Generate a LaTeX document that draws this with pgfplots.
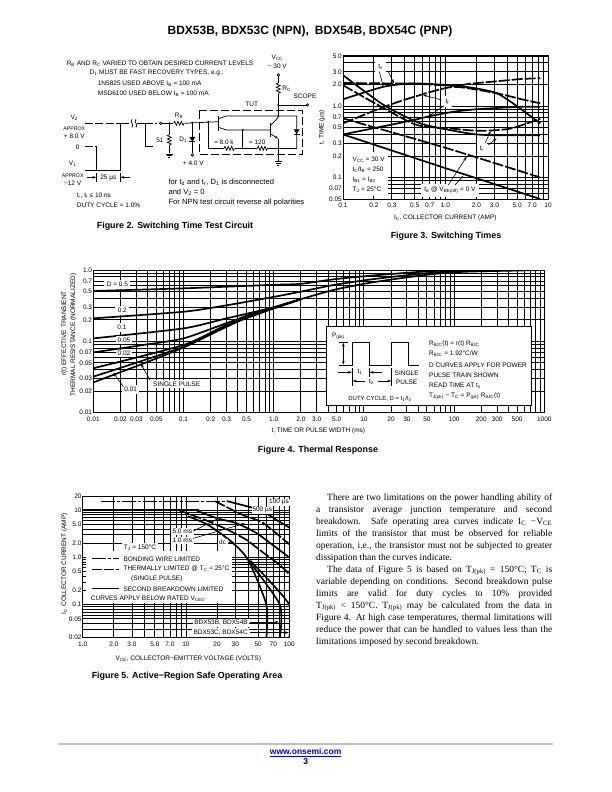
\documentclass[border=0pt]{standalone}
\usepackage{pgfplots}
\pgfplotsset{compat=1.18}
\usepackage{fontspec}
\setmainfont{Liberation Sans}
\newfontfamily\serif{Liberation Serif}
\usetikzlibrary{arrows.meta}
\newcommand\tfnt{\fontsize{6.5bp}{7bp}\selectfont}
\newcommand\capf{\fontsize{8.9bp}{10bp}\selectfont\bfseries}
\newcommand\sbs[1]{\textsubscript{#1}}
\newcommand\bline[1]{\makebox[236bp][s]{#1}}
\pgfplotsset{
  dsheet/.style={
    scale only axis,
    grid=both, major tick length=0pt, minor tick length=0pt,
    grid style={black,line width=.9bp},
    minor grid style={black,line width=.9bp},
    major grid style={black,line width=.9bp},
    axis line style={black,line width=1bp},
    tick label style={font=\tfnt,inner sep=1bp},
    xticklabel style={yshift=-3bp},
    clip=true},
}
\tikzset{
  scurve/.style={black,line width=1.7bp,mark=none,smooth,tension=.4},
  dcurve/.style={scurve,dash pattern=on 11bp off 2bp},
  zscale/.style={x=0.33333bp,y=-0.33333bp},
  lab/.style={font=\tfnt,inner sep=.6bp,fill=white},
  txt/.style={font=\tfnt,inner sep=0pt},
  tl/.style={txt,anchor=west},
  ar/.style={line width=.6bp,-{Stealth[length=4bp,width=2.6bp]}},
  wr/.style={line width=.7bp},
}
\newcommand\hres[2]{\draw[wr] (#1-16,#2) -- ++(3,-6) -- ++(5,12) -- ++(5,-12) -- ++(5,12) -- ++(5,-12) -- ++(5,12) -- ++(3,-6);}
\newcommand\vres[2]{\draw[wr] (#1,#2-16) -- ++(-6,3) -- ++(12,5) -- ++(-12,5) -- ++(12,5) -- ++(-12,5) -- ++(12,5) -- ++(-6,3);}
\newcommand\gnd[2]{\draw[wr] (#1-10,#2) -- (#1+10,#2) (#1-7,#2+5) -- (#1+7,#2+5) (#1-3,#2+10) -- (#1+3,#2+10);}
\newcommand\dio[2]{\fill (#1-9,#2-7) -- (#1+9,#2-7) -- (#1,#2+7) -- cycle; \draw[line width=1bp] (#1-9,#2+8) -- (#1+9,#2+8);}
\begin{document}
\begin{tikzpicture}
\path[use as bounding box] (0,0) rectangle (612bp,-792bp);
\fill[white] (0,0) rectangle (612bp,-792bp);

% Fig 3
\begin{loglogaxis}[dsheet,at={(343bp,-199bp)},anchor=south west,width=205bp,height=143bp,
 xmin=0.1,xmax=10,ymin=0.05,ymax=5,
 xtick={0.1,0.2,0.3,0.5,0.7,1,2,3,5,7,10},xticklabels={0.1,0.2,0.3,0.5,0.7,1.0,2.0,3.0,5.0,7.0,10},
 minor xtick={0.4,0.6,0.8,0.9,4,6,8,9},
 ytick={0.05,0.07,0.1,0.2,0.3,0.5,0.7,1,2,3,5},yticklabels={0.05,0.07,0.1,0.2,0.3,0.5,0.7,1.0,2.0,3.0,5.0},
 minor ytick={0.06,0.08,0.09,0.4,0.6,0.8,0.9,4}]
\addplot[dcurve] coordinates {(0.1,2.1)(0.25,2.07)(0.5,2.05)(1.2,1.92)(1.75,2.05)(3,2.2)(5.4,2.38)(8.4,2.45)};
\addplot[scurve] coordinates {(0.1,1.24)(0.25,1.86)(0.5,2.07)(1.2,1.93)(2,1.76)(3.2,1.5)(4.95,1.0)(8.4,0.57)};
\addplot[dcurve] coordinates {(0.1,0.57)(0.25,0.97)(0.5,1.35)(1.2,1.85)(3.2,1.5)(5.4,1.25)(8.4,1.09)};
\addplot[scurve] coordinates {(0.1,0.4)(0.3,0.55)(0.5,0.64)(0.7,0.72)(1.2,0.83)(2,0.9)(5,0.97)(8.4,0.97)};
\addplot[scurve] coordinates {(0.1,2.7)(0.25,1.03)(0.57,0.57)(1.2,0.45)(2,0.4)(3.2,0.39)(8.4,0.39)};
\addplot[dcurve] coordinates {(0.1,1.95)(0.25,0.93)(0.53,0.54)(1.2,0.48)(2,0.45)(3.2,0.46)(4.5,0.49)(8.4,0.66)};
\addplot[dcurve] coordinates {(0.1,0.67)(1,0.26)(8.4,0.1)};
\addplot[scurve] coordinates {(0.1,0.4)(1,0.135)(8.4,0.05)};
\end{loglogaxis}

% Fig 4
\begin{loglogaxis}[dsheet,at={(93.3bp,-412.7bp)},anchor=south west,width=451bp,height=142.7bp,
 xmin=0.01,xmax=1000,ymin=0.01,ymax=1,
 xtick={0.01,0.02,0.03,0.05,0.1,0.2,0.3,0.5,1,2,3,5,10,20,30,50,100,200,300,500,1000},
 xticklabels={0.01,0.02,0.03,0.05,0.1,0.2,0.3,0.5,1.0,2.0,3.0,5.0,10,20,30,50,100,200,300,500,1000},
 minor xtick={0.04,0.06,0.07,0.08,0.09,0.4,0.6,0.7,0.8,0.9,4,6,7,8,9,40,60,70,80,90,400,600,700,800,900},
 ytick={0.01,0.02,0.03,0.05,0.07,0.1,0.2,0.3,0.5,0.7,1},
 yticklabels={0.01,0.02,0.03,0.05,0.07,0.1,0.2,0.3,0.5,0.7,1.0},
 minor ytick={0.04,0.06,0.08,0.09,0.4,0.6,0.8,0.9}]
\addplot[scurve] coordinates {(0.01,0.508)(0.1,0.553)(1,0.62)(2,0.64)(4.6,0.74)(10.7,0.824)(25,0.898)(59,0.968)(138,0.99)(1000,1.0)};
\addplot[scurve] coordinates {(0.01,0.21)(0.1,0.26)(0.3,0.32)(1,0.42)(2,0.497)(4.6,0.616)(10.7,0.724)(25,0.824)(59,0.918)(138,0.98)(1000,1.0)};
\addplot[scurve] coordinates {(0.01,0.11)(0.1,0.152)(0.3,0.21)(1,0.3)(2,0.39)(4.6,0.525)(10.7,0.65)(25,0.764)(59,0.879)(138,0.947)(1000,1.0)};
\addplot[scurve] coordinates {(0.01,0.07)(0.036,0.089)(0.1,0.11)(0.3,0.18)(0.59,0.247)(1,0.3)(2,0.39)};
\addplot[scurve] coordinates {(0.01,0.042)(0.1,0.089)(0.3,0.17)(1,0.295)(2,0.39)};
\addplot[scurve] coordinates {(0.01,0.032)(0.1,0.084)(0.3,0.165)(1,0.29)(2,0.39)};
\addplot[scurve] coordinates {(0.01,0.0266)(0.036,0.049)(0.1,0.082)(0.3,0.16)(0.59,0.234)(1,0.29)(2,0.388)};
\end{loglogaxis}

% Fig 5
\begin{loglogaxis}[dsheet,at={(82.7bp,-637.7bp)},anchor=south west,width=206.6bp,height=141.7bp,
 xmin=1,xmax=100,ymin=0.02,ymax=20,
 xtick={1,2,3,5,7,10,20,30,50,70,100},xticklabels={1.0,2.0,3.0,5.0,7.0,10,20,30,50,70,100},
 minor xtick={4,6,8,9,40,60,80,90},
 ytick={0.02,0.05,0.1,0.2,0.5,1,2,5,10,20},yticklabels={0.02,0.05,0.1,0.2,0.5,1.0,2.0,5.0,10,20},
 minor ytick={0.03,0.04,0.06,0.07,0.08,0.09,0.3,0.4,0.6,0.7,0.8,0.9,3,4,6,7,8,9}]
\addplot[black,mark=none,line width=1.1bp,dash pattern=on 14bp off 2bp on 3bp off 2bp] coordinates {(1.5,15)(24,15)};
\addplot[black,mark=none,line width=2bp] coordinates {(1,10)(13.5,10)};
\addplot[black,mark=none,dash pattern=on 10bp off 2bp,line width=1.1bp] coordinates {(1,8)(8,8)};
\addplot[scurve] coordinates {(24.8,15.6)(52,10.1)(75.5,6.2)(100,4.3)};
\addplot[dcurve] coordinates {(19,15.6)(35.6,7.9)(55.6,5.4)(100,1.9)};
\addplot[scurve] coordinates {(12.7,9.8)(19.8,6.8)(30.8,5.3)(48,3.3)(70,1.8)(100,1.0)};
\addplot[dcurve] coordinates {(8.5,10)(16,6)(25,3.9)(38,2.4)(55,1.3)(81,0.69)(100,0.44)};
\addplot[scurve] coordinates {(10.4,7.5)(16.3,4.9)(27.6,2.15)(40,0.88)(60,0.1)(60,0.02)};
\addplot[scurve] coordinates {(40,0.88)(81,0.1)(81,0.02)};
\addplot[scurve] coordinates {(42,0.85)(100,0.1)(100,0.02)};
\end{loglogaxis}

% ---- page text
\node[font=\fontsize{12bp}{14bp}\selectfont\bfseries] at (310bp,-31bp) {BDX53B, BDX53C (NPN),\enspace BDX54B, BDX54C (PNP)};
\node[font=\capf] at (175bp,-226bp) {Figure 2. Switching Time Test Circuit};
\node[font=\capf] at (446bp,-236bp) {Figure 3. Switching Times};
\node[font=\capf] at (318bp,-450bp) {Figure 4. Thermal Response};
\node[font=\capf] at (187bp,-676bp) {Figure 5. Active−Region Safe Operating Area};

\fill[black!25] (58bp,-743.3bp) rectangle (553bp,-744.7bp);
\node[font=\fontsize{8.5bp}{9bp}\selectfont\bfseries,text=blue!85!black] at (305.7bp,-752.5bp) {\underline{www.onsemi.com}};
\node[font=\fontsize{8.5bp}{9bp}\selectfont\bfseries] at (305.7bp,-762bp) {3};

% body text
\begin{scope}[x=1bp,y=-1bp,every node/.style={anchor=base west,inner sep=0pt,font=\serif\fontsize{9.5bp}{11bp}\selectfont}]
\node at (327,500) {\makebox[225bp][s]{There are two limitations on the power handling ability of}};
\node at (316,512) {\bline{a transistor average junction temperature and second}};
\node at (316,524) {\bline{breakdown. Safe operating area curves indicate I\sbs{C} −V\sbs{CE}}};
\node at (316,536) {\bline{limits of the transistor that must be observed for reliable}};
\node at (316,548) {\bline{operation, i.e., the transistor must not be subjected to greater}};
\node at (316,560) {dissipation than the curves indicate.};
\node at (327,572) {\makebox[225bp][s]{The data of Figure 5 is based on T\sbs{J(pk)} = 150°C; T\sbs{C} is}};
\node at (316,584) {\bline{variable depending on conditions. Second breakdown pulse}};
\node at (316,596) {\bline{limits are valid for duty cycles to 10\% provided}};
\node at (316,608) {\bline{T\sbs{J(pk)} < 150°C. T\sbs{J(pk)} may be calculated from the data in}};
\node at (316,620) {\bline{Figure 4. At high case temperatures, thermal limitations will}};
\node at (316,632) {\bline{reduce the power that can be handled to values less than the}};
\node at (316,644) {limitations imposed by second breakdown.};
\end{scope}

% Fig 3 overlay
\begin{scope}[shift={(320bp,-45bp)},zscale]
\fill[white] (72,322) rectangle (205,452);
\node[tl] at (97,345) {V\sbs{CC} = 30 V};
\node[tl] at (97,375) {I\sbs{C}/I\sbs{B} = 250};
\node[tl] at (97,405) {I\sbs{B1} = I\sbs{B2}};
\node[tl] at (97,435) {T\sbs{J} = 25°C};
\node[lab,inner sep=3bp] at (390,436) {t\sbs{d} @ V\sbs{BE(off)} = 0 V};
\node[lab,inner sep=3bp] at (182,66) {t\sbs{s}};
\node[lab,inner sep=3bp] at (382,170) {t\sbs{f}};
\node[lab,inner sep=3bp] at (485,312) {t\sbs{r}};
\draw[ar] (178,80)--(190,125); \draw[ar] (205,80)--(222,115);
\draw[ar] (365,165)--(310,150); \draw[ar] (372,182)--(325,215);
\draw[ar] (495,295)--(512,258); \draw[ar] (505,300)--(530,280);
\draw[ar] (385,420)--(440,335); \draw[ar] (405,420)--(430,392);
\node[txt,rotate=90] at (6,246) {t, TIME (µs)};
\node[txt] at (376,517) {I\sbs{C}, COLLECTOR CURRENT (AMP)};
\end{scope}

% Fig 4 overlay
\begin{scope}[shift={(60bp,-260bp)},zscale]
\node[lab,inner sep=2.5bp] at (172,73) {D = 0.5};
\node[lab,inner sep=2.5bp] at (187,151) {0.2};
\node[lab,inner sep=2bp] at (186,202) {0.1};
\node[lab,inner sep=1.5bp] at (192,240) {0.05};
\node[lab,inner sep=1.5bp] at (192,280) {0.02};
\node[lab,inner sep=2bp] at (212,388) {0.01};
\node[lab,inner sep=2bp] at (350,372) {SINGLE PULSE};
\draw[ar] (190,380)--(160,338); \draw[ar] (270,360)--(243,312);
\node[txt,rotate=90] at (13,220) {r(t) EFFECTIVE TRANSIENT};
\node[txt,rotate=90] at (40,225) {THERMAL RESISTANCE (NORMALIZED)};
\node[txt] at (775,513) {t, TIME OR PULSE WIDTH (ms)};
\end{scope}
\begin{scope}[shift={(300bp,-260bp)},zscale]
\draw[fill=white,line width=.8bp] (80,200) rectangle (695,435);
\node[txt] at (115,228) {P\sbs{(pk)}};
\draw[line width=.8bp] (118,315)--(157,315)--(157,247)--(208,247)--(208,315)--(275,315)--(275,247)--(325,247)--(325,315)--(358,315);
\draw[wr] (118,247)--(145,247);
\draw[line width=.6bp,{Stealth[length=4bp,width=2.6bp]}-{Stealth[length=4bp,width=2.6bp]}] (130,248)--(130,314);
\draw[wr] (157,325)--(157,377) (208,325)--(208,350) (275,325)--(275,377);
\draw[ar] (115,337)--(156,337); \draw[ar] (247,337)--(209,337);
\draw[ar] (195,363)--(158,363); \draw[ar] (235,363)--(274,363);
\node[txt] at (180,335) {t\sbs{1}}; \node[txt] at (214,366) {t\sbs{2}};
\node[txt] at (320,340) {SINGLE}; \node[txt] at (320,368) {PULSE};
\node[txt,font=\fontsize{6bp}{7bp}\selectfont] at (240,415) {DUTY CYCLE, D = t\sbs{1}/t\sbs{2}};
\node[tl] at (387,250) {R\sbs{θJC}(t) = r(t) R\sbs{θJC}};
\node[tl] at (387,280) {R\sbs{θJC} = 1.92°C/W};
\node[tl] at (387,315) {D CURVES APPLY FOR POWER};
\node[tl] at (387,345) {PULSE TRAIN SHOWN};
\node[tl] at (387,378) {READ TIME AT t\sbs{1}};
\node[tl] at (387,408) {T\sbs{J(pk)} − T\sbs{C} = P\sbs{(pk)} R\sbs{θJC}(t)};
\end{scope}

% Fig 5 overlay
\begin{scope}[shift={(55bp,-485bp)},zscale]
\fill[white] (92,198) rectangle (530,355);
\node[lab,inner sep=2bp] at (255,188) {T\sbs{J} = 150°C};
\draw[line width=.9bp,dash pattern=on 14bp off 2bp on 3bp off 2bp] (112,220)--(192,220);
\node[tl] at (205,222) {BONDING WIRE LIMITED};
\draw[line width=.9bp,dash pattern=on 10bp off 2bp] (112,253)--(192,253);
\node[tl] at (205,252) {THERMALLY LIMITED @ T\sbs{C} = 25°C};
\node[tl] at (228,282) {(SINGLE PULSE)};
\draw[line width=.9bp] (112,310)--(192,310);
\node[tl] at (205,312) {SECOND BREAKDOWN LIMITED};
\node[tl] at (107,342) {CURVES APPLY BELOW RATED V\sbs{CEO}};
\node[lab,inner sep=1.5bp] at (382,140) {5.0 ms};
\node[lab,inner sep=1.5bp] at (382,166) {1.0 ms};
\node[lab,inner sep=1.5bp] at (503,173) {dc};
\node[lab,inner sep=.8bp] at (672,52) {100 µs};
\node[lab,inner sep=.8bp] at (622,76) {500 µs};
\draw[ar] (415,138)--(492,100); \draw[ar] (415,160)--(570,115); \draw[ar] (520,172)--(542,176);
\node[lab,inner sep=1.5bp] at (498,414) {BDX53B, BDX54B};
\node[lab,inner sep=1.5bp] at (497,443) {BDX53C, BDX54C};
\draw[ar,line width=.9bp] (585,411)--(672,411); \draw[ar,line width=.9bp] (585,443)--(702,443);
\node[txt,rotate=90] at (28,236) {I\sbs{C} COLLECTOR CURRENT (AMP)};
\node[txt] at (400,520) {V\sbs{CE}, COLLECTOR−EMITTER VOLTAGE (VOLTS)};
\end{scope}

% Fig 2 circuit
\begin{scope}[shift={(30bp,-40bp)},zscale]
\node[txt] at (390,70) {R\sbs{B} AND R\sbs{C} VARIED TO OBTAIN DESIRED CURRENT LEVELS};
\node[txt] at (380,100) {D\sbs{1} MUST BE FAST RECOVERY TYPES, e.g.:};
\node[tl] at (203,130) {1N5825 USED ABOVE I\sbs{B} ≈ 100 mA};
\node[tl] at (203,160) {MSD6100 USED BELOW I\sbs{B} ≈ 100 mA};
\node[txt] at (742,52) {V\sbs{CC}}; \node[txt] at (742,78) {− 30 V};
\node[txt] at (770,147) {R\sbs{C}}; \node[txt] at (825,168) {SCOPE}; \node[txt] at (665,193) {TUT};
\node[txt] at (133,232) {V\sbs{2}};
\node[txt,font=\fontsize{5.2bp}{6bp}\selectfont] at (133,265) {APPROX}; \node[txt] at (133,290) {+ 8.0 V};
\node[txt] at (143,323) {0}; \node[txt] at (128,370) {V\sbs{1}};
\node[txt,font=\fontsize{5.2bp}{6bp}\selectfont] at (128,407) {APPROX}; \node[txt] at (128,430) {−12 V};
\node[txt] at (235,413) {25 µs};
\node[tl] at (140,466) {t\sbs{r}, t\sbs{f} ≤ 10 ns}; \node[tl] at (140,495) {DUTY CYCLE = 1.0\%};
\node[txt] at (447,226) {R\sbs{B}}; \node[txt] at (390,300) {51}; \node[txt] at (460,298) {D\sbs{1}};
\node[txt] at (490,370) {+ 4.0 V};
\node[txt] at (582,308) {≈ 8.0 k}; \node[txt] at (682,308) {≈ 120};
\node[tl,font=\fontsize{7.6bp}{8bp}\selectfont] at (415,428) {for t\sbs{d} and t\sbs{r}, D\sbs{1} is disconnected};
\node[tl,font=\fontsize{7.6bp}{8bp}\selectfont] at (415,458) {and V\sbs{2} = 0};
\node[tl,font=\fontsize{7.6bp}{8bp}\selectfont] at (415,487) {For NPN test circuit reverse all polarities};
% waveform
\draw[line width=.8bp,dash pattern=on 8bp off 2.5bp] (165,250)--(270,250) (165,320)--(200,320) (345,320)--(375,320) (345,250)--(380,250);
\draw[line width=.8bp] (165,392)--(270,392)--(270,250)--(298,250) (200,320)--(200,392) (322,250)--(345,250)--(345,320);
\draw[wr] (306,238) .. controls (298,245) and (314,255) .. (306,262) (318,238) .. controls (310,245) and (326,255) .. (318,262);
\draw[wr] (200,400)--(200,425) (270,400)--(270,425);
\draw[ar] (170,412)--(199,412); \draw[ar] (300,412)--(271,412);
% input
\draw[wr,fill=white] (392,250) circle (1.3bp);
\draw[wr] (396,250)--(430,250); \hres{447}{250}; \draw[wr] (463,250)--(565,245);
\fill (418,250) circle (1.1bp); \fill (487,248) circle (1.1bp); \fill (535,246) circle (1.1bp);
\draw[wr] (418,250)--(418,284); \vres{418}{300}; \draw[wr] (418,316)--(418,340); \gnd{418}{342};
\draw[wr] (487,248)--(487,340); \dio{487}{298}; \draw[wr,fill=white] (487,345) circle (1.3bp);
\draw[line width=.8bp,dash pattern=on 8bp off 3bp] (508,212) rectangle (818,343);
% transistors
\draw[line width=1.3bp] (565,228)--(565,272) (722,248)--(722,292);
\draw[wr] (565,236)--(590,228)--(800,228)--(800,325);
\draw[wr] (565,262)--(590,270)--(722,270);
\draw[wr] (722,256)--(745,232);
\draw[wr,-{Stealth[length=3.5bp,width=2.5bp]}] (722,282)--(745,296);
\draw[wr] (535,246)--(535,325)--(582,325); \hres{598}{325}; \draw[wr] (614,325)--(682,325); \hres{698}{325}; \draw[wr] (714,325)--(800,325);
\fill (638,270) circle (1.1bp); \fill (638,325) circle (1.1bp); \draw[line width=1.1bp] (638,270)--(638,325);
\fill (745,228) circle (1.1bp); \fill (745,325) circle (1.1bp); \fill (745,195) circle (1.1bp);
\dio{800}{275};
\draw[wr] (745,109)--(745,129); \vres{745}{145}; \draw[wr] (745,161)--(745,228) (745,296)--(745,362);
\gnd{745}{365};
\draw[wr,fill=white] (745,105) circle (1.3bp);
\draw[wr] (745,195)--(828,195); \draw[wr,fill=white] (832,195) circle (1.3bp);
\end{scope}
\end{tikzpicture}
\end{document}
